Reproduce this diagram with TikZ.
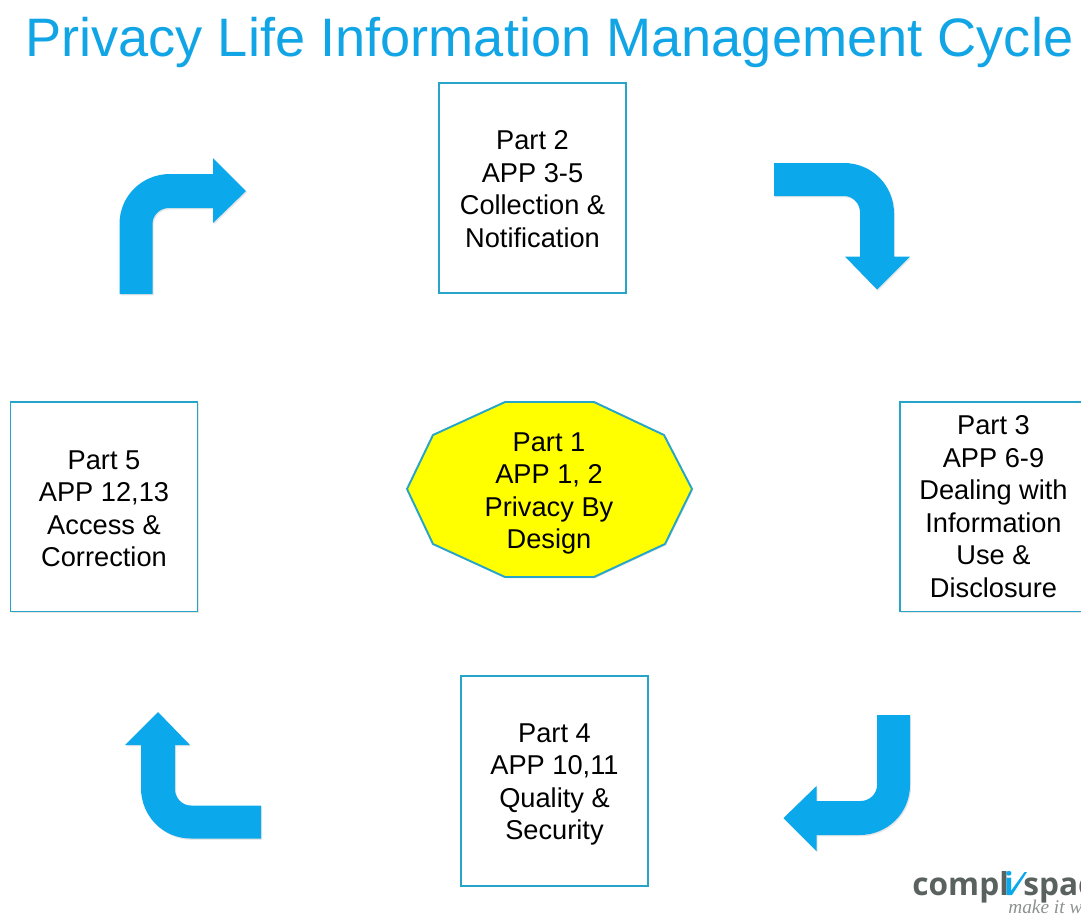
\documentclass[tikz,border=0pt]{standalone}
\usepackage{fontspec}
\setmainfont{Liberation Sans}
\newfontfamily\logofont{Open Sans}
\newfontfamily\tagfont{Liberation Serif}
\usetikzlibrary{shadows}
\definecolor{titleblue}{HTML}{12A5E6}
\definecolor{arrowblue}{HTML}{0BA9EC}
\definecolor{boxteal}{HTML}{27A5C9}
\definecolor{logogray}{HTML}{59625F}
\definecolor{taggray}{HTML}{8C9290}
\definecolor{centreyellow}{rgb}{1,1,0}
\tikzset{
  softshadow/.style={drop shadow={shadow xshift=.6pt,shadow yshift=-.8pt,opacity=.2}},
  parttext/.style={inner sep=0mm,align=center,font=\fontsize{15.5}{18.5}\selectfont},
  partbox/.style={parttext,draw=boxteal,line width=1.1pt,fill=white,softshadow,minimum width=3.74cm,minimum height=4.2cm},
  logotext/.style={inner sep=0mm,text=logogray,font=\logofont\bfseries\fontsize{18}{20}\selectfont}
}
\begin{document}
\begin{tikzpicture}[x=0.02cm,y=-0.02cm]
\path[use as bounding box,clip] (0,0) rectangle (1081,914);
%\draw[help lines,step=100] (0,0) grid (1081,914);
\node[inner sep=0mm,anchor=base west,text=titleblue,font=\fontsize{30.84}{36}\selectfont] (title) at (25,56) {Privacy Life Information Management Cycle};

\foreach \n/\x/\y/\h/\t in {part2/532.5/188/12.2/{Part 2\\APP 3-5\\Collection \&\\Notification}, part3/993.5/506.5/0/{Part 3\\APP 6-9\\Dealing with\\Information\\Use \&\\Disclosure}, part4/554.5/781/14.5/{Part 4\\APP 10,11\\Quality \&\\Security}, part5/104/506.5/13.4/{Part 5\\APP 12,13\\Access \&\\Correction}}
  \node[partbox] (\n) at (\x,\y) {\rule{0pt}{\h pt}\t};

\draw[draw=boxteal,line width=1.1pt,fill=centreyellow,softshadow] (505,402) -- (594,402) -- (664,435) -- (692,489) -- (665,544) -- (594,577) -- (505,577) -- (433,544) -- (407,489) -- (433,435) -- cycle;
\node[parttext] (part1) at (549,490) {\rule{0pt}{14.5pt}Part 1\\APP 1, 2\\Privacy By\\Design};

\foreach \x/\y/\r in {136/294/0, 774/179.5/-90, 893.5/715/180, 261/822/90}
  \fill[arrowblue,softshadow,shift={(\x,\y)},rotate=\r] (-16.5,0) -- (-16.5,-70) .. controls (-16.5,-98) and (6,-120) .. (34,-120) -- (77,-120) -- (77,-136) -- (110,-103) -- (77,-71) -- (77,-86) -- (33,-86) .. controls (24,-86) and (16.5,-79) .. (16.5,-70) -- (16.5,0) -- cycle;

\node[logotext,anchor=base west] (logoa) at (912,895) {compl};
\node[logotext,anchor=base west] (logob) at (1023,895) {space};
\node[logotext,anchor=base,text=arrowblue] (logoi) at (1009,895) {i};
\fill[arrowblue] (1008,895) -- (1012,895) -- (1027,872) -- (1024.5,872) -- cycle;
\node[inner sep=0mm,anchor=base west,text=taggray,font=\tagfont\itshape\fontsize{11}{13}\selectfont] (tagline) at (1008,913) {make it w};
\end{tikzpicture}
\end{document}
